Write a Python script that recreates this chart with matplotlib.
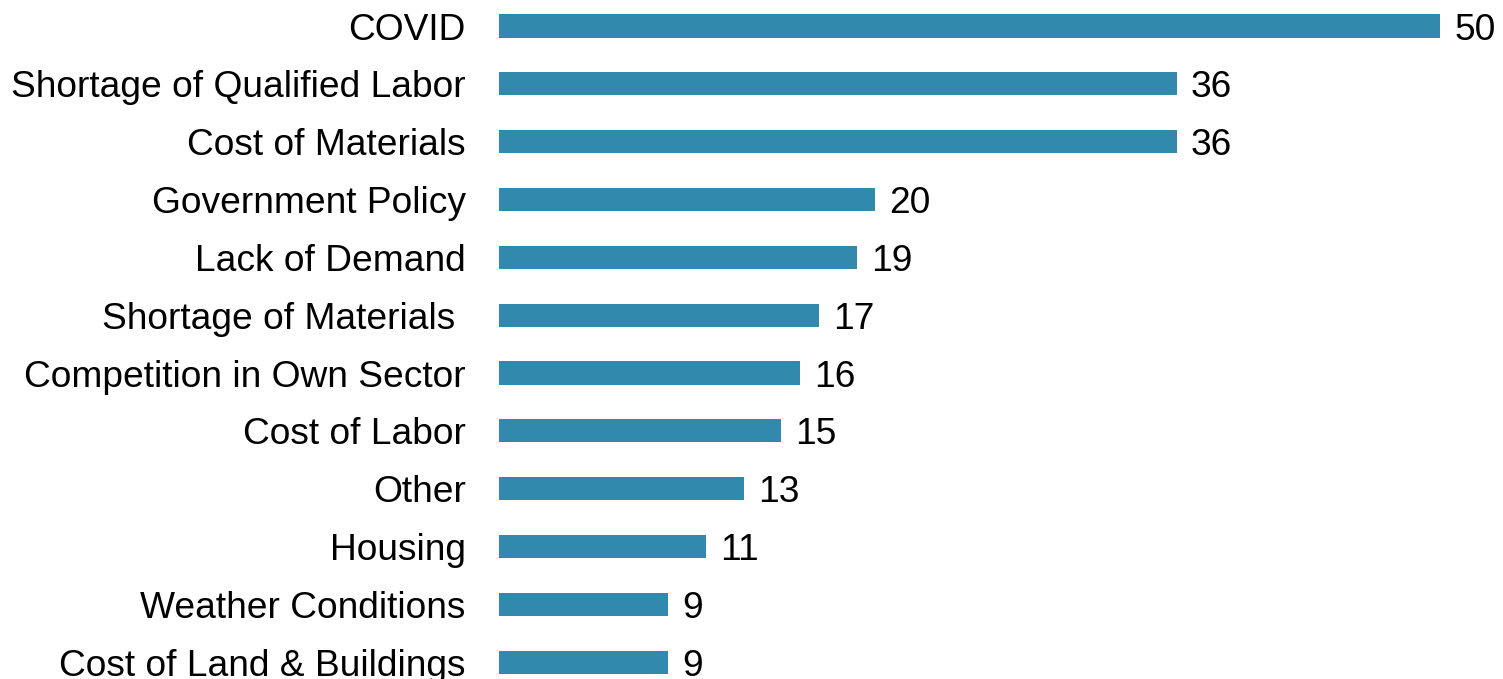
import matplotlib.pyplot as plt

plt.rcParams['font.family'] = ['Liberation Sans', 'DejaVu Sans']

categories = ['COVID', 'Shortage of Qualified Labor', 'Cost of Materials',
              'Government Policy', 'Lack of Demand', 'Shortage of Materials ',
              'Competition in Own Sector', 'Cost of Labor', 'Other', 'Housing',
              'Weather Conditions', 'Cost of Land & Buildings']
values = [50, 36, 36, 20, 19, 17, 16, 15, 13, 11, 9, 9]

fig = plt.figure(figsize=(15.03, 6.79), dpi=100)
ax = fig.add_axes([499 / 1503, 0, (1440 - 499) / 1503, 1])

pos = list(range(len(categories)))
bars = ax.barh(pos, values, height=0.40, color='#318AAD')
for b, v in zip(bars, values):
    ax.text(b.get_width() + 0.75, b.get_y() + b.get_height() / 2 + 0.07, str(v),
            va='center', ha='left', fontsize=26.7, color='black')

ax.set_yticks(pos)
ax.set_yticklabels(categories, fontsize=26.7)
ax.tick_params(axis='y', length=0, pad=24)
ax.set_xticks([])
ax.set_xlim(0, 50)
ax.set_ylim(11.29, -0.45)
for s in ax.spines.values():
    s.set_visible(False)

fig.savefig('out.png', dpi=100)
